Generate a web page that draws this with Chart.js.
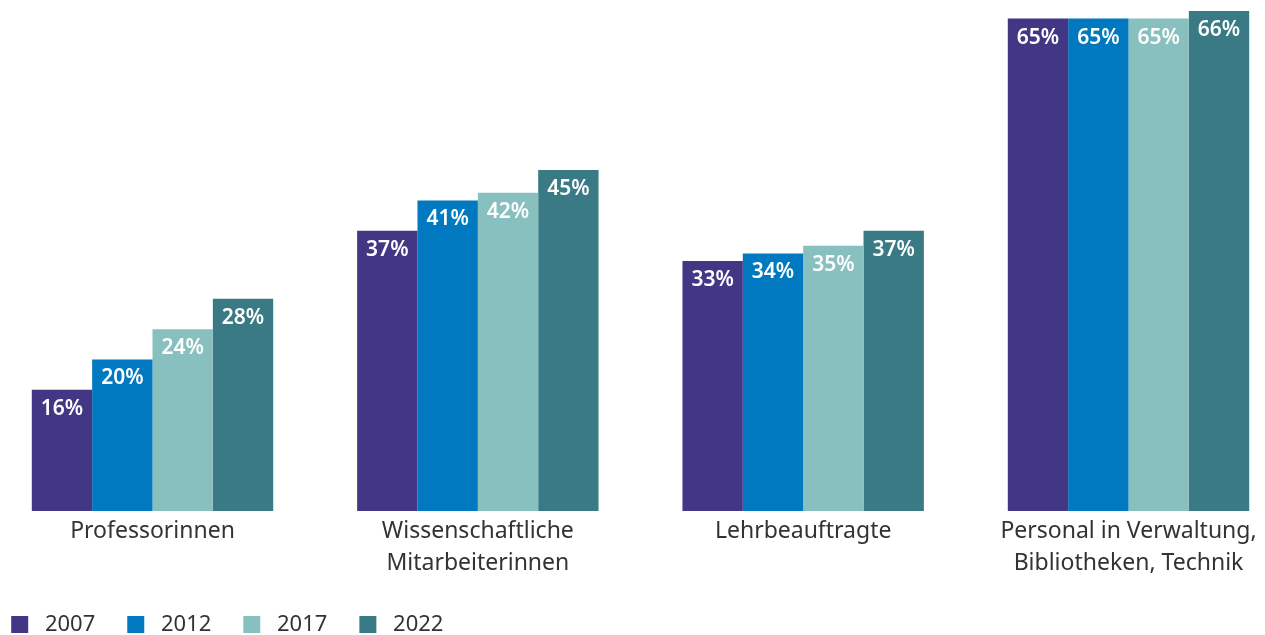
<!DOCTYPE html>
<html lang="de">
<head>
<meta charset="utf-8">
<title>Frauenanteile</title>
<script src="https://cdn.jsdelivr.net/npm/chart.js@4/dist/chart.umd.min.js"></script>
<style>
  html, body { margin: 0; padding: 0; background: #fff; }
  #wrap { width: 1265px; height: 635px; position: relative; }
</style>
</head>
<body>
<div id="wrap"><canvas id="chart"></canvas></div>
<script>
// Daten
const categories = [
  'Professorinnen',
  ['Wissenschaftliche', 'Mitarbeiterinnen'],
  'Lehrbeauftragte',
  ['Personal in Verwaltung,', 'Bibliotheken, Technik']
];
const years = ['2007', '2012', '2017', '2022'];
const values2007 = [16, 37, 33, 65];
const values2012 = [20, 41, 34, 65];
const values2017 = [24, 42, 35, 65];
const values2022 = [28, 45, 37, 66];
const colors = ['#433685', '#0079c0', '#88c0c0', '#397a85'];

const FONT = '"Noto Sans", "Open Sans", sans-serif';

// Prozentwerte oben in die Balken schreiben
const barLabels = {
  id: 'barLabels',
  afterDatasetsDraw(chart) {
    const ctx = chart.ctx;
    ctx.save();
    ctx.font = '600 21px ' + FONT;
    ctx.fillStyle = '#ffffff';
    ctx.textAlign = 'center';
    ctx.textBaseline = 'middle';
    chart.data.datasets.forEach((ds, i) => {
      chart.getDatasetMeta(i).data.forEach((bar, j) => {
        ctx.fillText(ds.data[j] + '%', bar.x, bar.y + 19);
      });
    });
    ctx.restore();
  }
};

const series = [values2007, values2012, values2017, values2022];

new Chart(document.getElementById('chart'), {
  type: 'bar',
  data: {
    labels: categories,
    datasets: years.map((y, i) => ({
      label: y,
      data: series[i],
      backgroundColor: colors[i],
      borderWidth: 0,
      clip: false,
      categoryPercentage: 0.742,
      barPercentage: 1.0
    }))
  },
  options: {
    responsive: true,
    maintainAspectRatio: false,
    animation: false,
    events: [],
    layout: { padding: { left: -20.8, right: 136.5, top: 0, bottom: -10.5 } },
    scales: {
      x: {
        offset: false,
        grid: { display: false, drawTicks: false },
        border: { display: false },
        ticks: {
          autoSkip: false, maxRotation: 0, minRotation: 0, padding: 5,
          color: '#333333',
          font: { family: FONT, size: 23, lineHeight: 1.37 }
        },
        afterFit: s => { s.height = 70.5; }
      },
      y: {
        min: 0, max: 67.45,
        grid: { display: false, drawTicks: false },
        border: { display: false },
        ticks: { display: false },
        afterFit: s => { s.width = 173.3; }
      }
    },
    plugins: {
      tooltip: { enabled: false },
      legend: {
        position: 'bottom',
        align: 'start',
        labels: {
          boxWidth: 17, boxHeight: 17, padding: 32,
          color: '#333333',
          font: { family: FONT, size: 22 },
          generateLabels: chart => Chart.defaults.plugins.legend.labels.generateLabels(chart)
            .map(item => Object.assign(item, { text: ' ' + item.text, lineWidth: 0 }))
        }
      }
    }
  },
  plugins: [barLabels]
});
</script>
</body>
</html>
